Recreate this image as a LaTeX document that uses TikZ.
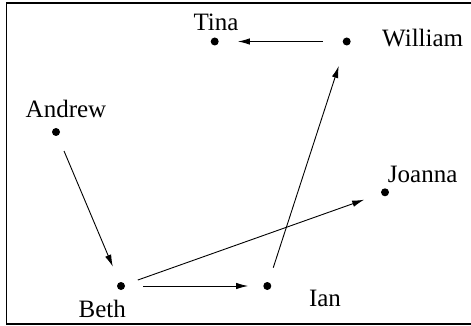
\documentclass[tikz,border=0pt]{standalone}
\usepackage{fontspec}
\setmainfont{Liberation Serif}
\usetikzlibrary{arrows.meta}
\begin{document}
\begin{tikzpicture}[x=1pt,y=-1pt,
  dot/.style={circle,fill=black,inner sep=0pt,minimum size=8pt},
  lbl/.style={font=\fontsize{25}{28}\selectfont,inner sep=0pt},
  edge/.style={line width=0.9pt,-{Latex[length=12pt,width=6.5pt]}}]
\useasboundingbox (0,0) rectangle (471,326);
\draw[line width=1.3pt] (475,3) -- (6.8,3) -- (6.8,324) -- (475,324);
\node[dot] (tina) at (214.7,41.5) {};
\node[dot] (william) at (346.7,41.5) {};
\node[dot] (andrew) at (56,132) {};
\node[dot] (joanna) at (385,192.3) {};
\node[dot] (beth) at (121,286) {};
\node[dot] (ian) at (267.3,286) {};
\node[lbl] (tinaL) at (216,22.5) {Tina};
\node[lbl] (williamL) at (422.7,38) {William};
\node[lbl] (andrewL) at (66,109.3) {Andrew};
\node[lbl] (joannaL) at (422.7,174) {Joanna};
\node[lbl] (bethL) at (102.3,308.5) {Beth};
\node[lbl] (ianL) at (325,298.5) {Ian};
\draw[edge,shorten <=20pt,shorten >=19pt] (william) -- (tina);
\draw[edge,shorten <=16.5pt,shorten >=16.8pt] (andrew) -- (beth);
\draw[edge,shorten <=18pt,shorten >=15pt] (beth) -- (ian);
\draw[edge,shorten <=13.6pt,shorten >=17.9pt] (beth) -- (joanna);
\draw[edge,shorten <=15pt,shorten >=21.5pt] (ian) -- (william);
\end{tikzpicture}
\end{document}
